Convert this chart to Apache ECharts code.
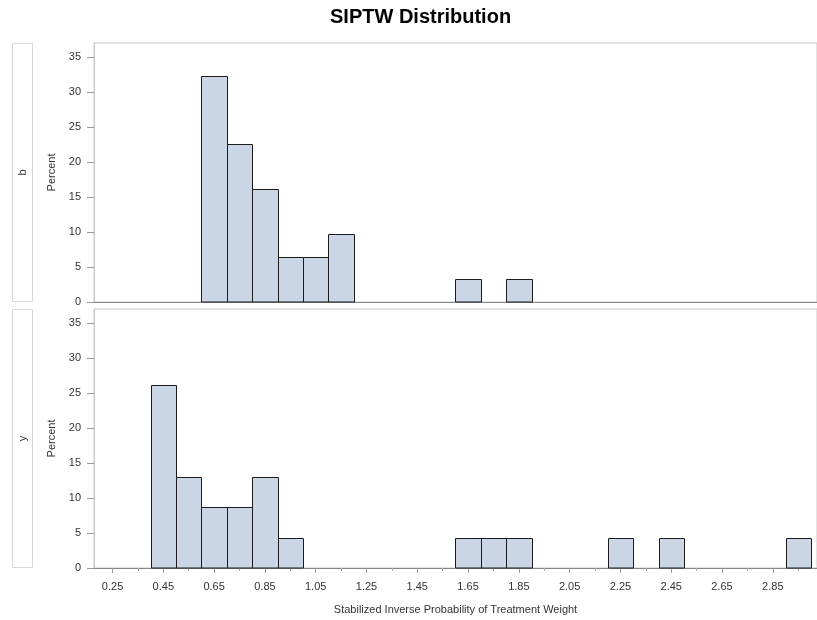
<!DOCTYPE html>
<html>
<head>
<meta charset="utf-8">
<title>SIPTW Distribution</title>
<script src="https://cdn.jsdelivr.net/npm/echarts@6/dist/echarts.min.js"></script>
<style>
  html, body { margin: 0; padding: 0; background: #fff; }
  #chart { width: 817px; height: 620px; }
</style>
</head>
<body>
<div id="chart"></div>
<script>
// Histogram bins (width 0.1) and percentages for each treatment group
const binWidth = 0.1;
const groupB_centers = [0.65, 0.75, 0.85, 0.95, 1.05, 1.15, 1.65, 1.85];
const groupB_percent = [32.26, 22.58, 16.13, 6.45, 6.45, 9.68, 3.23, 3.23];
const groupY_centers = [0.45, 0.55, 0.65, 0.75, 0.85, 0.95, 1.65, 1.75, 1.85, 2.25, 2.45, 2.95];
const groupY_percent = [26.09, 13.04, 8.70, 8.70, 13.04, 4.35, 4.35, 4.35, 4.35, 4.35, 4.35, 4.35];
const panelLabels = ['b', 'y'];

// Axis ticks
const xMajorTicks = [0.25, 0.45, 0.65, 0.85, 1.05, 1.25, 1.45, 1.65, 1.85, 2.05, 2.25, 2.45, 2.65, 2.85];
const xMinorTicks = [0.35, 0.55, 0.75, 0.95, 1.15, 1.35, 1.55, 1.75, 1.95, 2.15, 2.35, 2.55, 2.75, 2.95];
const yTicks = [0, 5, 10, 15, 20, 25, 30, 35];
const xMin = 0.177, xMax = 3.024;
const yMax = 37;

const FONT = '"Liberation Sans", Arial, sans-serif';
const BAR_FILL = '#CAD5E5';
const BAR_EDGE = '#1c1c1c';

// Panel layout
const PLOT_LEFT = 94, PLOT_WIDTH = 734, PANEL_H = 259;
const PANEL_TOPS = [43, 309];
const STRIP_X = 12, STRIP_W = 20;

const chart = echarts.init(document.getElementById('chart'), null, { renderer: 'canvas' });

function pairs(xs, ys) { return xs.map((x, i) => [x, ys[i]]); }

// Snap to the pixel grid so 1px outlines stay crisp
function snap(v) { return Math.round(v) + 0.5; }

function renderBin(params, api) {
  const c = api.value(0), v = api.value(1);
  const p0 = api.coord([c - binWidth / 2, v]);
  const p1 = api.coord([c + binWidth / 2, 0]);
  const x0 = snap(p0[0]), y0 = snap(p0[1]), x1 = snap(p1[0]), y1 = snap(p1[1]);
  const shape = echarts.graphic.clipRectByRect(
    { x: x0, y: y0, width: x1 - x0, height: y1 - y0 },
    params.coordSys
  );
  if (!shape) return null;
  return {
    type: 'rect',
    shape: shape,
    style: { fill: BAR_FILL, stroke: BAR_EDGE, lineWidth: 1 }
  };
}

function yAxisFor(gridIndex) {
  return {
    type: 'value', gridIndex, min: 0, max: yMax,
    name: 'Percent', nameLocation: 'middle', nameGap: 36,
    nameTextStyle: { fontFamily: FONT, fontSize: 11, color: '#333' },
    axisLine: { show: true, lineStyle: { color: '#c8c8c8' } },
    axisTick: { show: true, length: 7, customValues: yTicks, lineStyle: { color: '#999' } },
    axisLabel: { fontFamily: FONT, fontSize: 11, color: '#333', margin: 13, customValues: yTicks },
    splitLine: { show: false }
  };
}

const option = {
  animation: false,
  backgroundColor: '#fff',
  title: {
    text: 'SIPTW Distribution',
    left: 325, top: 2,
    textStyle: { fontFamily: FONT, fontSize: 20, fontWeight: 'bold', color: '#000' }
  },
  grid: PANEL_TOPS.map(t => ({
    left: PLOT_LEFT, top: t, width: PLOT_WIDTH, height: PANEL_H,
    show: true, borderColor: '#c8c8c8', borderWidth: 1, backgroundColor: 'transparent'
  })),
  xAxis: [
    {
      type: 'value', gridIndex: 0, position: 'bottom', min: xMin, max: xMax,
      axisLine: { show: true, lineStyle: { color: '#888' } },
      axisTick: { show: false }, axisLabel: { show: false }, splitLine: { show: false }
    },
    {
      type: 'value', gridIndex: 1, position: 'bottom', min: xMin, max: xMax,
      name: 'Stabilized Inverse Probability of Treatment Weight',
      nameLocation: 'middle', nameGap: 36,
      nameTextStyle: { fontFamily: FONT, fontSize: 11, color: '#333' },
      axisLine: { show: true, lineStyle: { color: '#888' } },
      axisTick: { show: true, length: 5, customValues: xMajorTicks, lineStyle: { color: '#999' } },
      axisLabel: {
        fontFamily: FONT, fontSize: 11, color: '#333', margin: 13,
        customValues: xMajorTicks, formatter: v => v.toFixed(2)
      },
      splitLine: { show: false }
    },
    {
      type: 'value', gridIndex: 1, position: 'bottom', min: xMin, max: xMax,
      axisLine: { show: false },
      axisTick: { show: true, length: 3, customValues: xMinorTicks, lineStyle: { color: '#aaa' } },
      axisLabel: { show: false }, splitLine: { show: false }
    }
  ],
  yAxis: [yAxisFor(0), yAxisFor(1)],
  series: [
    {
      type: 'custom', xAxisIndex: 0, yAxisIndex: 0,
      renderItem: renderBin, data: pairs(groupB_centers, groupB_percent)
    },
    {
      type: 'custom', xAxisIndex: 1, yAxisIndex: 1,
      renderItem: renderBin, data: pairs(groupY_centers, groupY_percent)
    }
  ],
  // Group strip labels at the left of each panel
  graphic: PANEL_TOPS.map((t, i) => ({
    type: 'group',
    children: [
      {
        type: 'rect',
        shape: { x: STRIP_X + 0.5, y: t + 0.5, width: STRIP_W, height: PANEL_H - 1 },
        style: { fill: '#fff', stroke: '#d8d8d8', lineWidth: 1 }
      },
      {
        type: 'text',
        x: STRIP_X + STRIP_W / 2 + 0.5, y: t + PANEL_H / 2,
        rotation: Math.PI / 2,
        style: {
          text: panelLabels[i], fontFamily: FONT, fontSize: 11, fill: '#333',
          align: 'center', verticalAlign: 'middle'
        }
      }
    ]
  }))
};

chart.setOption(option);
</script>
</body>
</html>
